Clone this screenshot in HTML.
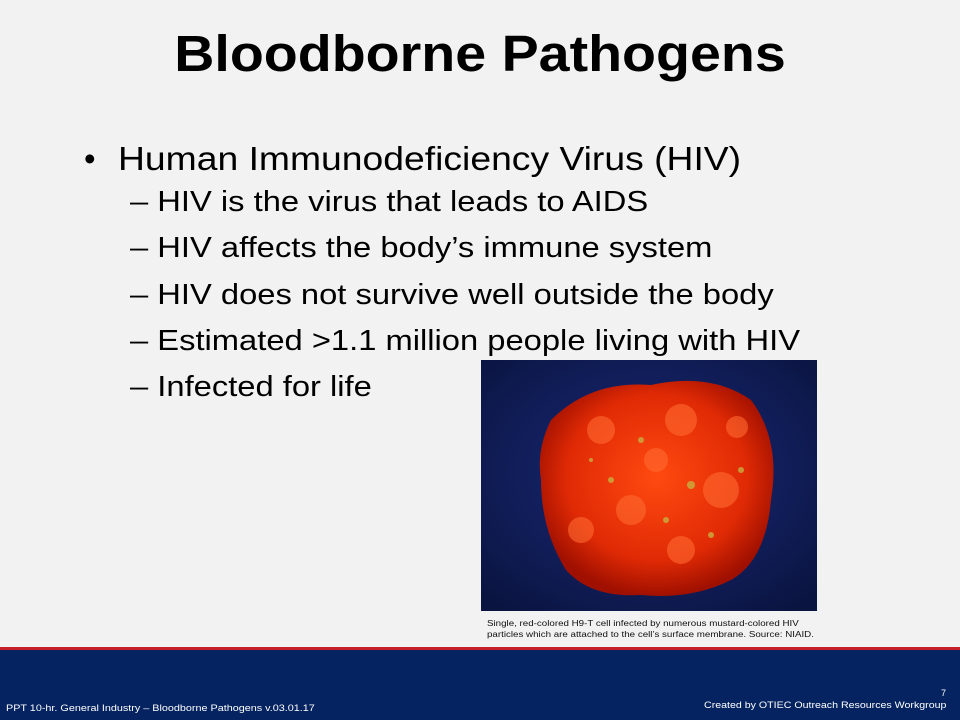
<!DOCTYPE html>
<html><head><meta charset="utf-8"><style>
body{margin:0;width:960px;height:720px;background:#f2f2f2;position:relative;overflow:hidden;font-family:"Liberation Sans",sans-serif;}
.t{position:absolute;white-space:nowrap;color:#000;transform-origin:0 50%;}
.s{transform:scaleX(1.128);}
</style></head><body>
<div class="t" style="left:0;width:960px;text-align:center;top:24px;font-size:51px;font-weight:bold;transform:scaleX(1.09);transform-origin:50% 50%;">Bloodborne Pathogens</div>
<div class="t" style="left:84px;top:140px;font-size:33px;">•</div>
<div class="t" style="left:118px;top:140px;font-size:33px;transform:scaleX(1.13);">Human Immunodeficiency Virus (HIV)</div>
<div class="t s" style="left:130px;top:186px;font-size:29px;">– HIV is the virus that leads to AIDS</div>
<div class="t s" style="left:130px;top:232px;font-size:29px;">– HIV affects the body’s immune system</div>
<div class="t s" style="left:130px;top:279px;font-size:29px;">– HIV does not survive well outside the body</div>
<div class="t s" style="left:130px;top:325px;font-size:29px;">– Estimated &gt;1.1 million people living with HIV</div>
<div class="t s" style="left:130px;top:371px;font-size:29px;">– Infected for life</div>
<svg style="position:absolute;left:481px;top:360px" width="336" height="251">
<defs>
<radialGradient id="bg" cx="0.5" cy="0.45" r="0.7"><stop offset="0" stop-color="#1a2a7a"/><stop offset="1" stop-color="#0a1440"/></radialGradient>
<radialGradient id="cell" cx="0.5" cy="0.45" r="0.55"><stop offset="0" stop-color="#ff4a10"/><stop offset="0.7" stop-color="#e02a05"/><stop offset="1" stop-color="#a01000"/></radialGradient>
</defs>
<rect width="336" height="251" fill="url(#bg)"/>
<path d="M70,60 Q110,20 170,25 Q230,12 270,40 Q300,80 290,140 Q285,200 250,220 Q210,240 160,235 Q110,238 85,210 Q60,170 60,120 Q55,90 70,60Z" fill="url(#cell)"/>
<g fill="#ff6a30" opacity="0.6"><circle cx="120" cy="70" r="14"/><circle cx="200" cy="60" r="16"/><circle cx="240" cy="130" r="18"/><circle cx="150" cy="150" r="15"/><circle cx="100" cy="170" r="13"/><circle cx="200" cy="190" r="14"/><circle cx="175" cy="100" r="12"/><circle cx="256" cy="67" r="11"/></g>
<g fill="#c8b040" opacity="0.8"><circle cx="160" cy="80" r="3"/><circle cx="210" cy="125" r="4"/><circle cx="130" cy="120" r="3"/><circle cx="185" cy="160" r="3"/><circle cx="230" cy="175" r="3"/><circle cx="110" cy="100" r="2"/><circle cx="260" cy="110" r="3"/></g>
</svg>
<div class="t" style="left:487px;top:618px;font-size:8px;line-height:11px;color:#111;transform:scaleX(1.22);transform-origin:0 0;">Single, red-colored H9-T cell infected by numerous mustard-colored HIV<br>particles which are attached to the cell’s surface membrane. Source: NIAID.</div>
<div style="position:absolute;left:0;top:647px;width:960px;height:3px;background:#c8202a;"></div>
<div style="position:absolute;left:0;top:650px;width:960px;height:70px;background:#052360;"></div>
<div class="t" style="left:6px;top:703px;font-size:9px;color:#fff;transform:scaleX(1.2);">PPT 10-hr. General Industry – Bloodborne Pathogens v.03.01.17</div>
<div class="t" style="right:14px;top:688px;font-size:9px;color:#fff;">7</div>
<div class="t" style="right:14px;top:700px;font-size:9px;color:#fff;transform:scaleX(1.18);transform-origin:100% 50%;">Created by OTIEC Outreach Resources Workgroup</div>
</body></html>
